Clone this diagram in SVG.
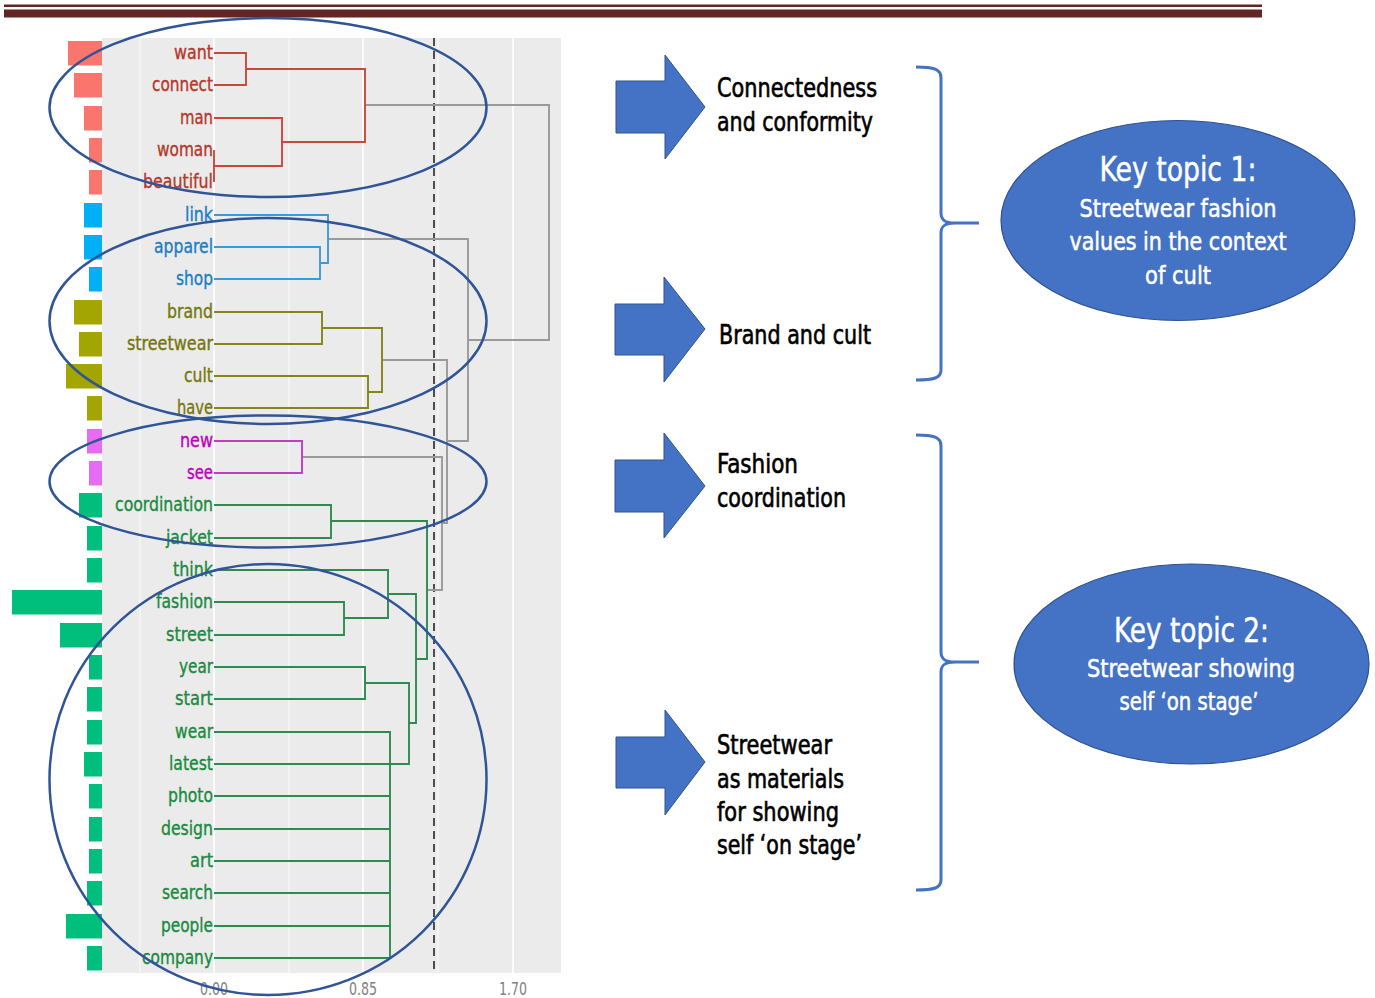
<svg xmlns="http://www.w3.org/2000/svg" width="1375" height="998" viewBox="0 0 1375 998">
<style>
.lbl{font-family:"DejaVu Sans Condensed","DejaVu Sans",sans-serif;font-stretch:condensed;font-size:20px;text-anchor:end;stroke-width:0.35}
.ax{font-family:"DejaVu Sans Condensed","DejaVu Sans",sans-serif;font-stretch:condensed;font-size:17px;fill:#808080;text-anchor:middle}
.rt{font-family:"DejaVu Sans Condensed","DejaVu Sans",sans-serif;font-stretch:condensed;font-size:26px;fill:#000;stroke:#000;stroke-width:0.6}
.kt{font-family:"DejaVu Sans Condensed","DejaVu Sans",sans-serif;font-stretch:condensed;fill:#fff;stroke:#fff;stroke-width:0.5;text-anchor:middle}
.red{fill:#B5372B;stroke:#B5372B}.blu{fill:#1B7EC2;stroke:#1B7EC2}.olv{fill:#76760C;stroke:#76760C}.mag{fill:#C000C0;stroke:#C000C0}.grn{fill:#198A3F;stroke:#198A3F}
.ln{fill:none;stroke-width:1.9}
.arrow{fill:#4472C4;stroke:#2F528F;stroke-width:1}
.brace{fill:none;stroke:#4472C4;stroke-width:3}
.ring{fill:none;stroke:#2F5597;stroke-width:2.5}
.key{fill:#4472C4;stroke:#2F528F;stroke-width:1.2}
</style>
<rect width="1375" height="998" fill="#fff"/>
<g id="header">
<rect x="4" y="4.5" width="1258" height="2.5" fill="#632523"/>
<rect x="4" y="9.5" width="1258" height="8" fill="#632523"/>
</g>
<g id="panel">
<rect x="102" y="38" width="459" height="935" fill="#EBEBEB"/>
<g stroke="#fff" stroke-width="0.8">
<line x1="140" y1="38" x2="140" y2="973"/><line x1="289" y1="38" x2="289" y2="973"/><line x1="438" y1="38" x2="438" y2="973"/>
</g>
<g stroke="#fff" stroke-width="1.6">
<line x1="214" y1="38" x2="214" y2="973"/><line x1="363" y1="38" x2="363" y2="973"/><line x1="513" y1="38" x2="513" y2="973"/>
</g>
<text class="ax" x="214" y="995" textLength="28" lengthAdjust="spacingAndGlyphs">0.00</text>
<text class="ax" x="363" y="995" textLength="28" lengthAdjust="spacingAndGlyphs">0.85</text>
<text class="ax" x="513" y="995" textLength="28" lengthAdjust="spacingAndGlyphs">1.70</text>
</g>
<g id="bars">
<g fill="#F8766D">
<rect x="68" y="41" width="34" height="24.5"/><rect x="74" y="73" width="28" height="24.5"/><rect x="84" y="106" width="18" height="24.5"/><rect x="89" y="138" width="13" height="24.5"/><rect x="89" y="170" width="13" height="24.5"/>
</g>
<g fill="#00B0F6">
<rect x="84" y="203" width="18" height="24.5"/><rect x="84" y="235" width="18" height="24.5"/><rect x="89" y="267" width="13" height="24.5"/>
</g>
<g fill="#A3A500">
<rect x="74" y="300" width="28" height="24.5"/><rect x="79" y="332" width="23" height="24.5"/><rect x="66" y="364" width="36" height="24.5"/><rect x="87" y="396" width="15" height="24.5"/>
</g>
<g fill="#E76BF3">
<rect x="87" y="429" width="15" height="24.5"/><rect x="89" y="461" width="13" height="24.5"/>
</g>
<g fill="#00BF7D">
<rect x="79" y="493" width="23" height="24.5"/><rect x="87" y="526" width="15" height="24.5"/><rect x="87" y="558" width="15" height="24.5"/><rect x="12" y="590" width="90" height="24.5"/><rect x="60" y="623" width="42" height="24.5"/><rect x="89" y="655" width="13" height="24.5"/><rect x="87" y="687" width="15" height="24.5"/><rect x="87" y="720" width="15" height="24.5"/><rect x="84" y="752" width="18" height="24.5"/><rect x="89" y="784" width="13" height="24.5"/><rect x="89" y="817" width="13" height="24.5"/><rect x="89" y="849" width="13" height="24.5"/><rect x="87" y="881" width="15" height="24.5"/><rect x="66" y="914" width="36" height="24.5"/><rect x="87" y="946" width="15" height="24.5"/>
</g>
</g>
<g id="connectors">
<line x1="434" y1="38" x2="434" y2="973" stroke="#333" stroke-width="1.7" stroke-dasharray="8,5"/>
<g class="ln" stroke="#9A9A9A">
<path d="M365,105 H549 V340 H468"/>
<path d="M328,239 H468 V441 H447"/>
<path d="M382,360 H447 V523 H442"/>
<path d="M302,457 H442 V590 H427"/>
</g>
<g class="ln" stroke="#C9483C">
<path d="M214,53 H246 V85 H214"/>
<path d="M246,69 H365 V142 H282"/>
<path d="M214,118 H282 V166 H214"/>
<path d="M214,150 V182"/>
</g>
<g class="ln" stroke="#3C9AD6">
<path d="M214,247 H320 V279 H214"/>
<path d="M320,263 H328 V215 H214"/>
</g>
<g class="ln" stroke="#858519">
<path d="M214,312 H322 V344 H214"/>
<path d="M214,376 H368 V408 H214"/>
<path d="M322,328 H382 V392 H368"/>
</g>
<g class="ln" stroke="#C43BC4">
<path d="M214,441 H302 V473 H214"/>
</g>
<g class="ln" stroke="#2E8B4F">
<path d="M214,505 H331 V538 H214"/>
<path d="M331,521 H427 V659 H416"/>
<path d="M214,602 H344 V635 H214"/>
<path d="M344,618 H388 V570 H214"/>
<path d="M388,594 H416 V723 H409"/>
<path d="M214,667 H365 V699 H214"/>
<path d="M365,683 H409 V764 H214"/>
<path d="M214,732 H390 V958 H214"/>
<path d="M214,796 H390 M214,829 H390 M214,861 H390 M214,893 H390 M214,926 H390"/>
</g>
</g>
<g id="leaf-labels">
<text class="lbl red" x="213" y="59" textLength="39" lengthAdjust="spacingAndGlyphs">want</text>
<text class="lbl red" x="213" y="91" textLength="61" lengthAdjust="spacingAndGlyphs">connect</text>
<text class="lbl red" x="213" y="124" textLength="33" lengthAdjust="spacingAndGlyphs">man</text>
<text class="lbl red" x="213" y="156" textLength="56" lengthAdjust="spacingAndGlyphs">woman</text>
<text class="lbl red" x="213" y="188" textLength="70" lengthAdjust="spacingAndGlyphs">beautiful</text>
<text class="lbl blu" x="213" y="221" textLength="28" lengthAdjust="spacingAndGlyphs">link</text>
<text class="lbl blu" x="213" y="253" textLength="59" lengthAdjust="spacingAndGlyphs">apparel</text>
<text class="lbl blu" x="213" y="285" textLength="37" lengthAdjust="spacingAndGlyphs">shop</text>
<text class="lbl olv" x="213" y="318" textLength="46" lengthAdjust="spacingAndGlyphs">brand</text>
<text class="lbl olv" x="213" y="350" textLength="86" lengthAdjust="spacingAndGlyphs">streetwear</text>
<text class="lbl olv" x="213" y="382" textLength="29" lengthAdjust="spacingAndGlyphs">cult</text>
<text class="lbl olv" x="213" y="414" textLength="36" lengthAdjust="spacingAndGlyphs">have</text>
<text class="lbl mag" x="213" y="447" textLength="33" lengthAdjust="spacingAndGlyphs">new</text>
<text class="lbl mag" x="213" y="479" textLength="26" lengthAdjust="spacingAndGlyphs">see</text>
<text class="lbl grn" x="213" y="511" textLength="98" lengthAdjust="spacingAndGlyphs">coordination</text>
<text class="lbl grn" x="213" y="544" textLength="47" lengthAdjust="spacingAndGlyphs">jacket</text>
<text class="lbl grn" x="213" y="576" textLength="40" lengthAdjust="spacingAndGlyphs">think</text>
<text class="lbl grn" x="213" y="608" textLength="57" lengthAdjust="spacingAndGlyphs">fashion</text>
<text class="lbl grn" x="213" y="641" textLength="47" lengthAdjust="spacingAndGlyphs">street</text>
<text class="lbl grn" x="213" y="673" textLength="34" lengthAdjust="spacingAndGlyphs">year</text>
<text class="lbl grn" x="213" y="705" textLength="38" lengthAdjust="spacingAndGlyphs">start</text>
<text class="lbl grn" x="213" y="738" textLength="38" lengthAdjust="spacingAndGlyphs">wear</text>
<text class="lbl grn" x="213" y="770" textLength="44" lengthAdjust="spacingAndGlyphs">latest</text>
<text class="lbl grn" x="213" y="802" textLength="45" lengthAdjust="spacingAndGlyphs">photo</text>
<text class="lbl grn" x="213" y="835" textLength="52" lengthAdjust="spacingAndGlyphs">design</text>
<text class="lbl grn" x="213" y="867" textLength="23" lengthAdjust="spacingAndGlyphs">art</text>
<text class="lbl grn" x="213" y="899" textLength="51" lengthAdjust="spacingAndGlyphs">search</text>
<text class="lbl grn" x="213" y="932" textLength="52" lengthAdjust="spacingAndGlyphs">people</text>
<text class="lbl grn" x="213" y="964" textLength="71" lengthAdjust="spacingAndGlyphs">company</text>
</g>
<g id="cluster-rings">
<ellipse class="ring" cx="268" cy="107.5" rx="218.5" ry="89.5"/>
<ellipse class="ring" cx="268" cy="321" rx="218.5" ry="103"/>
<ellipse class="ring" cx="268" cy="481.5" rx="218.5" ry="66"/>
<ellipse class="ring" cx="268" cy="779.5" rx="218.5" ry="215.5"/>
</g>
<g id="arrow-connectedness">
<polygon class="arrow" points="616,81 665,81 665,55 705,107 665,159 665,133 616,133"/>
<text class="rt" x="717" y="97" textLength="160" lengthAdjust="spacingAndGlyphs">Connectedness</text>
<text class="rt" x="717" y="131" textLength="156" lengthAdjust="spacingAndGlyphs">and conformity</text>
</g>
<g id="arrow-brand">
<polygon class="arrow" points="615,304 664,304 664,277 705,329 664,382 664,355 615,355"/>
<text class="rt" x="719" y="344" textLength="152" lengthAdjust="spacingAndGlyphs">Brand and cult</text>
</g>
<g id="arrow-fashion">
<polygon class="arrow" points="615,460 664,460 664,433 705,486 664,538 664,512 615,512"/>
<text class="rt" x="717" y="473" textLength="81" lengthAdjust="spacingAndGlyphs">Fashion</text>
<text class="rt" x="717" y="507" textLength="129" lengthAdjust="spacingAndGlyphs">coordination</text>
</g>
<g id="arrow-streetwear">
<polygon class="arrow" points="616,737 665,737 665,710 705,762 665,815 665,788 616,788"/>
<text class="rt" x="717" y="754" textLength="115" lengthAdjust="spacingAndGlyphs">Streetwear</text>
<text class="rt" x="717" y="788" textLength="127" lengthAdjust="spacingAndGlyphs">as materials</text>
<text class="rt" x="717" y="821" textLength="122" lengthAdjust="spacingAndGlyphs">for showing</text>
<text class="rt" x="717" y="854" textLength="145" lengthAdjust="spacingAndGlyphs">self ‘on stage’</text>
</g>
<g id="braces">
<path class="brace" d="M916,67 C934,67 941,69 941,78 V213 C941,220 945,223 955,223 H979 M955,223 C945,223 941,226 941,233 V370 C941,378 934,380 916,380"/>
<path class="brace" d="M916,435 C934,435 941,437 941,446 V652 C941,659 945,662 955,662 H979 M955,662 C945,662 941,665 941,672 V880 C941,888 934,890 916,890"/>
</g>
<g id="key-topic-1">
<ellipse class="key" cx="1178" cy="220.5" rx="177" ry="100"/>
<text class="kt" x="1178" y="181" font-size="34" textLength="157" lengthAdjust="spacingAndGlyphs">Key topic 1:</text>
<text class="kt" x="1178" y="217" font-size="24" textLength="197" lengthAdjust="spacingAndGlyphs">Streetwear fashion</text>
<text class="kt" x="1178" y="250" font-size="24" textLength="217" lengthAdjust="spacingAndGlyphs">values in the context</text>
<text class="kt" x="1178" y="284" font-size="24" textLength="66" lengthAdjust="spacingAndGlyphs">of cult</text>
</g>
<g id="key-topic-2">
<ellipse class="key" cx="1191.5" cy="664" rx="177.5" ry="100"/>
<text class="kt" x="1191.5" y="642" font-size="34" textLength="155" lengthAdjust="spacingAndGlyphs">Key topic 2:</text>
<text class="kt" x="1191" y="677" font-size="24" textLength="208" lengthAdjust="spacingAndGlyphs">Streetwear showing</text>
<text class="kt" x="1189" y="710" font-size="24" textLength="139" lengthAdjust="spacingAndGlyphs">self ‘on stage’</text>
</g>
</svg>
